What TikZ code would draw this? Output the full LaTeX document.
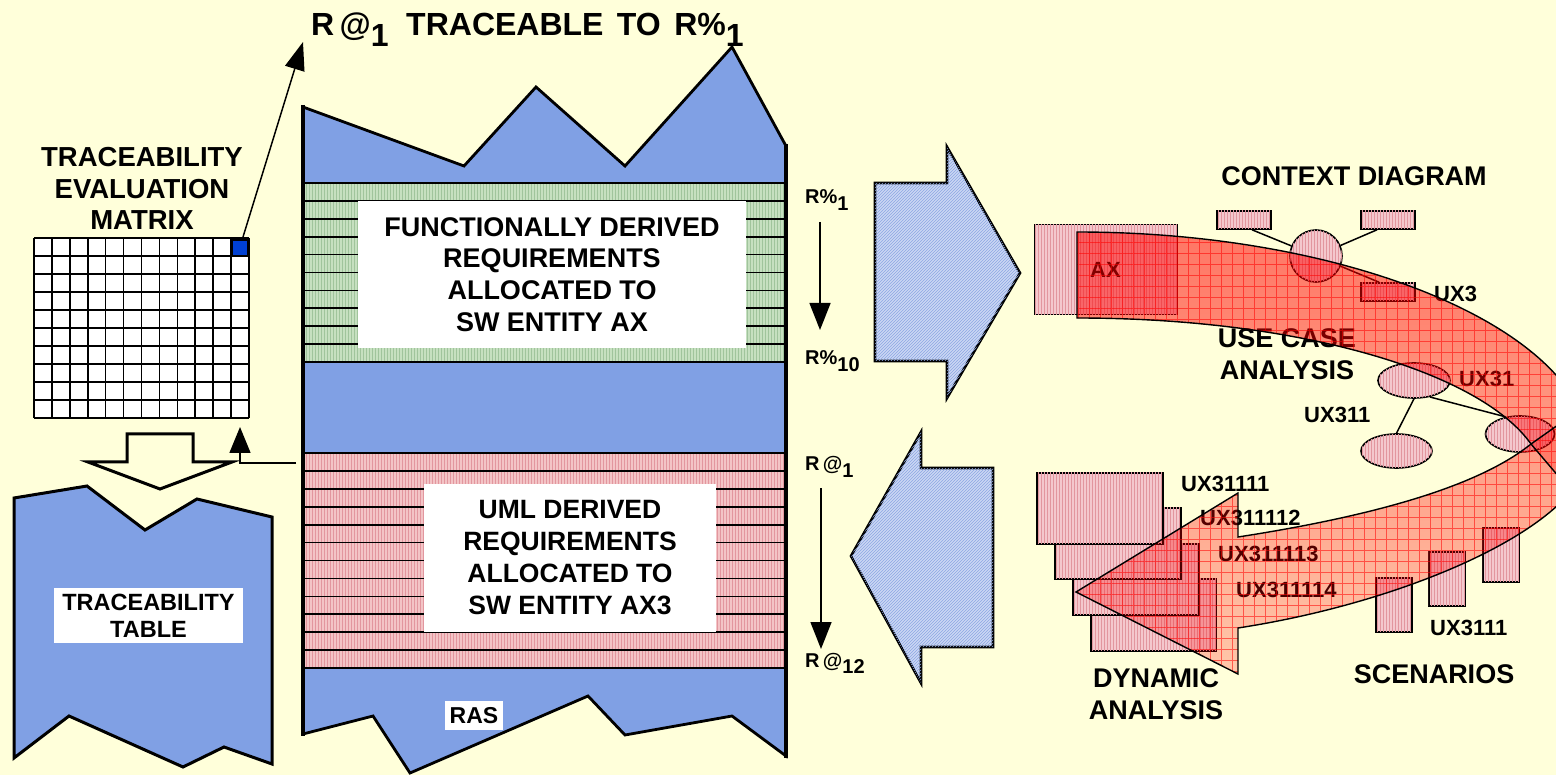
\documentclass[tikz,border=0pt]{standalone}
\usepackage{fontspec}
\setmainfont{Liberation Sans}
\usetikzlibrary{arrows.meta,patterns,fadings,calc,shapes.geometric}

\definecolor{bg}{RGB}{255,255,218}
\definecolor{colblue}{RGB}{128,160,228}
\definecolor{bandgreen}{RGB}{198,224,192}
\definecolor{greenhatch}{RGB}{160,196,156}
\definecolor{bandpink}{RGB}{243,196,198}
\definecolor{pinkhatch}{RGB}{226,150,158}
\definecolor{arrowblue}{RGB}{204,216,244}
\definecolor{bluehatch}{RGB}{140,166,226}
\definecolor{pinkfill}{RGB}{244,200,205}
\definecolor{cellblue}{RGB}{0,64,210}
\definecolor{bandred}{RGB}{255,0,0}

% subscript digits sit lower but keep the full size
\newcommand\lowsub[1]{\raisebox{-0.34em}{#1}}

% the curved arrow is denser where it starts and fades toward its head
\tikzfading[name=bandfade, top color=transparent!46, bottom color=transparent!78]

\begin{document}
\begin{tikzpicture}[x=1pt,y=-1pt,
  txtbig/.style={font=\fontsize{27}{31.7}\selectfont\bfseries, inner sep=0pt, align=center},
  txtmed/.style={font=\fontsize{23.5}{27}\selectfont\bfseries, inner sep=0pt, align=center},
  txtsmall/.style={font=\fontsize{22}{26}\selectfont\bfseries, inner sep=0pt, anchor=base west},
  txtr/.style={font=\fontsize{20}{23}\selectfont\bfseries, inner sep=0pt, anchor=base west},
  whitebox/.style={fill=white, inner sep=0pt, align=center},
  gridline/.style={draw=black, line width=1.6},
  stripe/.style={draw=black, line width=1.7},
  thickedge/.style={draw=black, line width=3, line join=miter},
  bluearrow/.style={fill=arrowblue, draw=black, line width=2.6, line join=miter,
    postaction={pattern=north east lines, pattern color=bluehatch}},
  pinkbox/.style={draw=black, line width=1.6, fill=pinkfill, inner sep=0pt,
    postaction={pattern=vertical lines, pattern color=pinkhatch}},
  pinkoval/.style={ellipse, draw=black, line width=1.6, fill=pinkfill, inner sep=0pt,
    postaction={pattern=vertical lines, pattern color=pinkhatch}},
  link/.style={draw=black, line width=1.5},
  bigtip/.style={-{Triangle[length=27pt,width=21pt]}}
]
\fill[bg] (0,0) rectangle (1556,775);
\useasboundingbox (0,0) rectangle (1556,775);

% ---------- traceability evaluation matrix ----------
\node[txtbig, font=\fontsize{27.5}{31.5}\selectfont\bfseries] (mlabel) at (142,188.7)
  {TRACEABILITY\\EVALUATION\\MATRIX};
\node[fill=white, minimum width=215pt, minimum height=180pt, inner sep=0pt, anchor=north west] (matrix) at (34,238) {};
\foreach \i in {0,...,12} {\draw[gridline] ({34+\i*17.917},238) -- ({34+\i*17.917},418);}
\foreach \j in {0,...,10} {\draw[gridline] (34,{238+\j*18}) -- (249,{238+\j*18});}
\filldraw[fill=cellblue, draw=black, line width=2] (231.5,240.5) rectangle (247.5,256.5);
\coordinate (cellcorner) at (243,237);
\coordinate (ttip) at (303,42);
\draw[link, -{Triangle[length=28pt,width=20pt]}] (cellcorner) -- (ttip);

% hollow arrow from the matrix down to the table
\draw[thickedge] (127,434) -- (193,434) -- (193,462) -- (232,462) -- (160,489)
  -- (88,462) -- (127,462) -- cycle;

% ---------- traceability table ----------
\filldraw[fill=colblue, thickedge] (14,498) -- (87,486) -- (145,530) -- (197,499) -- (272,517)
  -- (272,764) -- (224,747) -- (183,767) -- (69,716) -- (14,758) -- cycle;
\node[whitebox, txtmed, minimum width=189pt, minimum height=55pt] (ttable) at (148.5,615.5)
  {TRACEABILITY\\TABLE};

% ---------- title ----------
\node[anchor=base west, inner sep=0pt, font=\fontsize{32}{36}\selectfont\bfseries] (title) at (311,36)
  {R\,@\lowsub{1}\hspace{0.55em}TRACEABLE\hspace{0.42em}TO\hspace{0.42em}R\%\lowsub{1}};

% ---------- requirements column ----------
\filldraw[fill=colblue, draw=black, line width=2.8, line join=miter]
  (303,107) -- (464,166) -- (536,87) -- (625,166) -- (732,47) -- (786,146)
  -- (786,756) -- (732,716) -- (625,735) -- (588,696) -- (410,773) -- (373,716) -- (303,734) -- cycle;
% functionally derived band (R%1 .. R%10)
\fill[bandgreen] (303,183) rectangle (786,362);
\fill[pattern=vertical lines, pattern color=greenhatch] (303,183) rectangle (786,362);
\foreach \k in {0,...,10} {\draw[stripe] (303,{183+\k*17.9}) -- (786,{183+\k*17.9});}
% UML derived band (R@1 .. R@12)
\fill[bandpink] (303,453) rectangle (786,668);
\fill[pattern=vertical lines, pattern color=pinkhatch] (303,453) rectangle (786,668);
\foreach \k in {0,...,12} {\draw[stripe] (303,{453+\k*17.92}) -- (786,{453+\k*17.92});}
\draw[black, line width=4] (303,105) -- (303,736);
\draw[black, line width=4] (786,144) -- (786,758);

\node[whitebox, txtbig, minimum width=388pt, minimum height=147pt] (fdr) at (552,274.5)
  {FUNCTIONALLY DERIVED\\REQUIREMENTS\\ALLOCATED TO\\SW ENTITY AX};
\node[whitebox, txtbig, font=\fontsize{26.5}{32}\selectfont\bfseries, minimum width=292pt, minimum height=148pt] (udr) at (570,558)
  {UML DERIVED\\REQUIREMENTS\\ALLOCATED TO\\SW ENTITY AX3};
\node[whitebox, font=\fontsize{23}{26}\selectfont\bfseries, minimum width=58pt, minimum height=29pt] (ras) at (474,715.5) {RAS};

% link from the column back up to the matrix
\coordinate (colport) at (296,463);
\coordinate (elbow) at (240,463);
\coordinate (uptip) at (240,427);
\draw[link, -{Triangle[length=26pt,width=21pt]}] (colport) -- (elbow) -- (uptip);

% ---------- requirement ranges ----------
\node[txtr] (rp1) at (805,204) {R\%\lowsub{1}};
\node[txtr] (rp10) at (805,365) {R\%\lowsub{10}};
\coordinate (rpa) at (820,222);
\coordinate (rpb) at (820,330);
\draw[link, bigtip] (rpa) -- (rpb);
\node[txtr] (ra1) at (805,471) {R\,@\lowsub{1}};
\node[txtr] (ra12) at (805,667) {R\,@\lowsub{12}};
\coordinate (raa) at (821,488);
\coordinate (rab) at (821,649);
\draw[link, bigtip] (raa) -- (rab);

% ---------- exchange arrows ----------
\path[bluearrow] (875,183) -- (947,183) -- (947,147) -- (1020,273) -- (947,398) -- (947,361) -- (875,361) -- cycle;
\path[bluearrow] (851,556) -- (921,432) -- (921,468) -- (993,468) -- (993,647) -- (921,647) -- (921,683) -- cycle;

% ---------- UML analysis artefacts ----------
\node[pinkbox, minimum width=142pt, minimum height=90pt] (axbox) at (1106,269.5) {};
\node[txtsmall] (ax) at (1090,278) {AX};

\node[txtbig, anchor=base] (ctxlbl) at (1354,186) {CONTEXT DIAGRAM};
\node[pinkbox, minimum width=54pt, minimum height=18pt] (cr1) at (1244,220) {};
\node[pinkbox, minimum width=54pt, minimum height=18pt] (cr2) at (1388,220) {};
\node[pinkbox, minimum width=54pt, minimum height=18pt] (cr3) at (1388,292) {};
\node[pinkoval, circle, minimum size=52pt] (ctx) at (1316,256) {};
\draw[link] ($(cr1.south)+(8,0)$) -- (ctx);
\draw[link] ($(cr2.south)+(-11,0)$) -- (ctx);
\draw[link] (ctx) -- ($(cr3.north)+(-9,0)$);
\node[txtsmall] (ux3) at (1434,302) {UX3};

\node[txtbig] (ucl) at (1287,354.3) {USE CASE\\ANALYSIS};
\node[pinkoval, minimum width=72pt, minimum height=35pt] (e1) at (1414,380.5) {};
\node[pinkoval, minimum width=71pt, minimum height=34pt] (e2) at (1396.5,451) {};
\node[pinkoval, minimum width=69pt, minimum height=36pt] (e3) at (1520,434) {};
\draw[link] (e1.south) -- (e2.north);
\draw[link] (e1.-46) -- (e3.130);
\node[txtsmall] (ux31) at (1459,387) {UX31};
\node[txtsmall] (ux311) at (1304,423) {UX311};

% dynamic analysis sheets, back to front
\node[pinkbox, minimum width=125pt, minimum height=72pt, anchor=north west] (d4) at (1090,578) {};
\node[pinkbox, minimum width=126pt, minimum height=71pt, anchor=north west] (d3) at (1072,543) {};
\node[pinkbox, minimum width=126pt, minimum height=71pt, anchor=north west] (d2) at (1054,507) {};
\node[pinkbox, minimum width=126pt, minimum height=71pt, anchor=north west] (d1) at (1036,472) {};
\node[txtsmall] (u5) at (1181,491) {UX31111};
\node[txtsmall] (u6) at (1200,525) {UX311112};
\node[txtsmall] (u7) at (1218,561) {UX311113};
\node[txtsmall] (u8) at (1236,597) {UX311114};
\node[txtbig] (dyn) at (1156,694.3) {DYNAMIC\\ANALYSIS};

% scenario bars
\node[pinkbox, minimum width=36pt, minimum height=54pt, anchor=north west] (s1) at (1375,577) {};
\node[pinkbox, minimum width=36pt, minimum height=54pt, anchor=north west] (s2) at (1428,551) {};
\node[pinkbox, minimum width=36pt, minimum height=54pt, anchor=north west] (s3) at (1482,527) {};
\node[txtsmall] (ux3111) at (1430,635) {UX3111};
\node[txtbig, anchor=base] (scen) at (1434,683) {SCENARIOS};

% ---------- curved process arrow ----------
\def\bandpath{(1077,232) .. controls (1360,232) and (1589,335) .. (1589,450)
  .. controls (1589,520) and (1420,600) .. (1238,628) -- (1238,674) -- (1076,592)
  -- (1238,493) -- (1238,537) .. controls (1380,515) and (1480,485) .. (1531,444)
  .. controls (1480,372) and (1300,318) .. (1077,318) -- cycle}
\fill[bandred, path fading=bandfade] \bandpath;
\begin{scope}
  \clip \bandpath;
  \draw[bandred, line width=0.6, opacity=0.55, xstep=11pt, ystep=11pt] (1060,220) grid (1600,690);
\end{scope}
% overlap of the two arms at the turn
\fill[bandred, opacity=0.22] (1531,444) -- (1565,484) -- (1565,420) -- cycle;
\draw[black, line width=1.4] \bandpath;
\draw[black, line width=1.4] (1531,444) -- (1565,484);
\draw[black, line width=1.4] (1531,444) -- (1565,420);
\end{tikzpicture}
\end{document}
